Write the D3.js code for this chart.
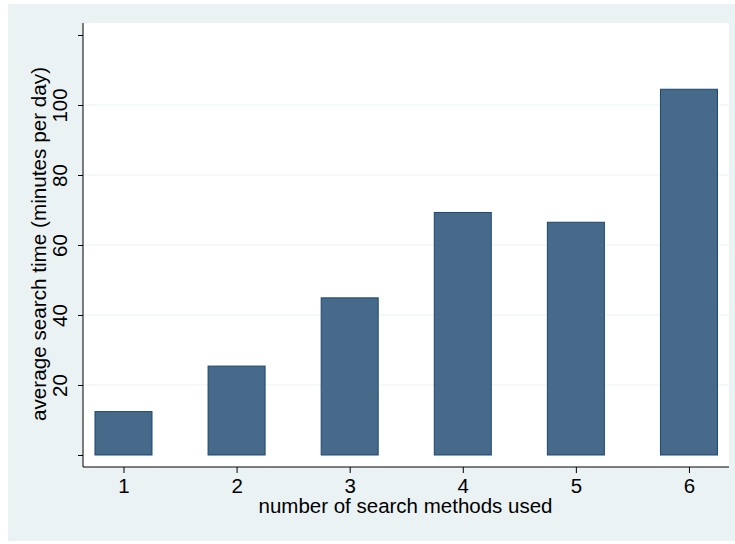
<!DOCTYPE html>
<html>
<head>
<meta charset="utf-8">
<script src="https://cdn.jsdelivr.net/npm/d3@7"></script>
<style>
  body { margin: 0; background: #fff; }
  svg { display: block; font-family: "Liberation Sans", Arial, sans-serif; }
</style>
</head>
<body>
<div id="chart"></div>
<script>
let w = 735;
let h = 544;

// data
let methods = [1, 2, 3, 4, 5, 6];
let searchTime = [12.4, 25.4, 44.9, 69.3, 66.5, 104.5];
let yTicks = [0, 20, 40, 60, 80, 100, 120];
let yLabelled = [20, 40, 60, 80, 100];

let plot = { left: 83, right: 729, top: 23, bottom: 467 };

let svg = d3.select("#chart")
  .append("svg")
  .attr("width", w)
  .attr("height", h);

// graph region + plot region
svg.append("rect")
  .attr("x", 8).attr("y", 4)
  .attr("width", w - 8).attr("height", 537)
  .attr("fill", "#eaf2f3");

svg.append("rect")
  .attr("x", plot.left).attr("y", plot.top)
  .attr("width", plot.right - plot.left).attr("height", plot.bottom - plot.top)
  .attr("fill", "#ffffff");

let xScale = d3.scaleLinear()
  .domain([0.642, 6.354])
  .range([plot.left, plot.right]);

let yScale = d3.scaleLinear()
  .domain([-3.43, 123.43])
  .range([plot.bottom, plot.top]);

// gridlines
svg.append("g")
  .selectAll("line")
  .data(yLabelled)
  .join("line")
  .attr("x1", plot.left).attr("x2", plot.right)
  .attr("y1", d => yScale(d)).attr("y2", d => yScale(d))
  .attr("stroke", "#eaf2f3")
  .attr("stroke-width", 1);

// bars
let barW = 57;
svg.append("g")
  .selectAll("rect")
  .data(methods)
  .join("rect")
  .attr("x", d => xScale(d) - barW / 2)
  .attr("y", (d, i) => yScale(searchTime[i]))
  .attr("width", barW)
  .attr("height", (d, i) => yScale(0) - yScale(searchTime[i]))
  .attr("fill", "#476a8a")
  .attr("stroke", "#1a476f")
  .attr("stroke-width", 1);

// y axis
let yAxis = d3.axisLeft(yScale)
  .tickValues(yTicks)
  .tickSize(5)
  .tickFormat(d => yLabelled.includes(d) ? d : "");

let gy = svg.append("g")
  .attr("transform", "translate(" + plot.left + ",0)")
  .call(yAxis);
gy.select(".domain").attr("d", "M0," + plot.top + "V" + plot.bottom).attr("stroke", "#000");
gy.selectAll(".tick line").attr("stroke", "#000");
gy.selectAll(".tick text")
  .attr("transform", "rotate(-90)")
  .attr("x", 0)
  .attr("y", -16)
  .attr("dy", 0)
  .attr("text-anchor", "middle")
  .style("font-size", "20.5px")
  .attr("fill", "#000");

// x axis
let xAxis = d3.axisBottom(xScale)
  .tickValues(methods)
  .tickSize(6)
  .tickFormat(d3.format("d"));

let gx = svg.append("g")
  .attr("transform", "translate(0," + plot.bottom + ")")
  .call(xAxis);
gx.select(".domain").attr("d", "M" + plot.left + ",0H" + plot.right).attr("stroke", "#000");
gx.selectAll(".tick line").attr("stroke", "#000");
gx.selectAll(".tick text")
  .attr("y", 26)
  .attr("dy", 0)
  .style("font-size", "20.5px")
  .attr("fill", "#000");

// titles
svg.append("text")
  .attr("x", 405.5)
  .attr("y", 513)
  .attr("text-anchor", "middle")
  .style("font-size", "20.5px")
  .attr("fill", "#000")
  .text("number of search methods used");

svg.append("text")
  .attr("transform", "translate(46," + ((plot.top + plot.bottom) / 2 - 1) + ") rotate(-90)")
  .attr("text-anchor", "middle")
  .style("font-size", "20.7px")
  .attr("fill", "#000")
  .text("average search time (minutes per day)");
</script>
</body>
</html>
